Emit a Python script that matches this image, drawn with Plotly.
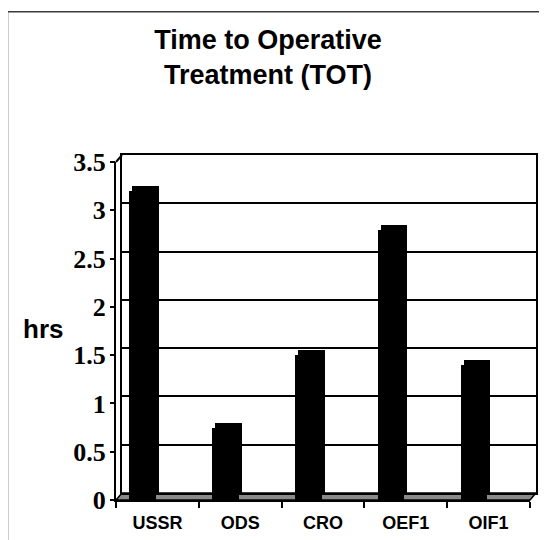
import plotly.graph_objects as go

categories = ["USSR", "ODS", "CRO", "OEF1", "OIF1"]
hours = [3.2, 0.75, 1.5, 2.8, 1.4]
y_ticks = [0, 0.5, 1, 1.5, 2, 2.5, 3, 3.5]
title_text = "Time to Operative<br>Treatment (TOT)"
y_label = "hrs"

W, H = 547, 540
OFF = 8  # page body margin: screen px = figure px + 8

# plot (paper) area on screen: x 116 -> 536, y 155 -> 500
SX0, SX1, SY0, SY1 = 116, 536, 155, 500
L, T = SX0 - OFF, SY0 - OFF
R, B = W - (SX1 - OFF), H - (SY1 - OFF)
PW, PH = W - L - R, H - T - B


def px_x(s):
    return (s - SX0) / PW


def px_y(s):
    return (SY1 - s) / PH


# front plane: x 116->530, y 0 at 500, 3.5 at 162
front_x = [0, px_x(530)]
front_y = [0, px_y(162)]
# back wall: x 122->536, y 0 at 493, 3.5 at 155
back_x = [px_x(122), 1]
back_y = [px_y(493), 1]
# bar back faces offset
bdx, bdy = 3.4 / PW, 5.5 / PH
barback_x = [front_x[0] + bdx, front_x[1] + bdx]
barback_y = [front_y[0] + bdy, front_y[1] + bdy]

fig = go.Figure()

# empty traces so the back-wall subplot and the tick-mark axis get drawn
fig.add_trace(go.Scatter(x=[], y=[], xaxis="x", yaxis="y", showlegend=False, hoverinfo="skip"))
fig.add_trace(go.Scatter(x=[], y=[], xaxis="x2", yaxis="y4", showlegend=False, hoverinfo="skip"))

bar_style = dict(marker=dict(color="black", line=dict(width=0)), width=0.322, offset=-0.339,
                 showlegend=False, hoverinfo="skip")
fig.add_trace(go.Bar(x=categories, y=hours, xaxis="x2", yaxis="y2", **bar_style))
fig.add_trace(go.Bar(x=categories, y=hours, xaxis="x3", yaxis="y3", **bar_style))

fig.update_layout(
    template="none",
    width=W, height=H,
    margin=dict(l=L, r=R, t=T, b=B, autoexpand=False),
    paper_bgcolor="white", plot_bgcolor="rgba(0,0,0,0)",
    showlegend=False,
    title=dict(text=title_text, x=(268 - OFF) / W, xanchor="center",
               y=1 - (49 - OFF) / H, yanchor="middle",
               xref="container", yref="container",
               font=dict(family="Liberation Sans", size=27, color="black", weight="bold")),
    # back wall
    xaxis=dict(domain=back_x, range=[0, 1], anchor="y", showgrid=False, zeroline=False,
               showline=True, mirror=True, linecolor="black", linewidth=2,
               ticks="", showticklabels=False, automargin=False, fixedrange=True),
    yaxis=dict(domain=back_y, range=[0, 3.5], anchor="x", tickvals=y_ticks, showgrid=True,
               gridcolor="black", gridwidth=2, zeroline=False,
               showline=True, mirror=True, linecolor="black", linewidth=2,
               ticks="", showticklabels=False, automargin=False, fixedrange=True),
    # front axes
    xaxis2=dict(domain=front_x, anchor="y2", type="category", categoryorder="array",
                categoryarray=categories, range=[-0.5, 4.5], tickson="boundaries",
                ticks="outside", ticklen=6, tickwidth=2, tickcolor="black",
                ticklabelstandoff=5,
                showline=True, linecolor="black", linewidth=2, showgrid=False, zeroline=False,
                tickfont=dict(family="Liberation Sans", size=18, color="black", weight="bold"),
                automargin=False, fixedrange=True),
    yaxis2=dict(domain=front_y, anchor="x2", range=[0, 3.5], tickvals=y_ticks,
                ticktext=[f"{v:g}" for v in y_ticks], ticks="", ticklabelstandoff=3,
                showline=True, linecolor="black", linewidth=2, showgrid=False, zeroline=False,
                tickfont=dict(family="Liberation Serif", size=26, color="black", weight="bold"),
                automargin=False, fixedrange=True),
    # tick marks of the front value axis
    yaxis4=dict(overlaying="y2", anchor="x2", side="left", range=[0, 3.5], tickvals=y_ticks,
                ticks="outside", ticklen=5, tickwidth=2, tickcolor="black",
                showticklabels=False, showline=False, showgrid=False, zeroline=False,
                automargin=False, fixedrange=True),
    # bar back faces
    xaxis3=dict(domain=barback_x, anchor="y3", type="category", categoryorder="array",
                categoryarray=categories, range=[-0.5, 4.5], visible=False, fixedrange=True),
    yaxis3=dict(domain=barback_y, anchor="x3", range=[0, 3.5], visible=False, fixedrange=True),
    bargap=0,
)

# floor of the 3D box
fig.add_shape(type="path", xref="paper", yref="paper", layer="below",
              path=(f"M {front_x[0]},{front_y[0]} L {front_x[1]},{front_y[0]} "
                    f"L {back_x[1]},{back_y[0]} L {back_x[0]},{back_y[0]} Z"),
              fillcolor="#8a8a8a", line=dict(color="black", width=1.5))
# top-left connector of side wall
fig.add_shape(type="line", xref="paper", yref="paper",
              x0=front_x[0], y0=front_y[1], x1=back_x[0], y1=back_y[1],
              line=dict(color="black", width=2))
# outer chart border
fig.add_shape(type="rect", xref="paper", yref="paper",
              x0=px_x(7.5), x1=px_x(W + 30), y0=px_y(H + 30), y1=px_y(11.7),
              line=dict(color="#3a3a3a", width=1.5), fillcolor="rgba(0,0,0,0)")

fig.add_annotation(text=y_label, xref="paper", yref="paper", x=px_x(43), y=px_y(329),
                   xanchor="center", yanchor="middle", showarrow=False,
                   font=dict(family="Liberation Sans", size=26, color="black", weight="bold"))

fig.write_html("out.html")
